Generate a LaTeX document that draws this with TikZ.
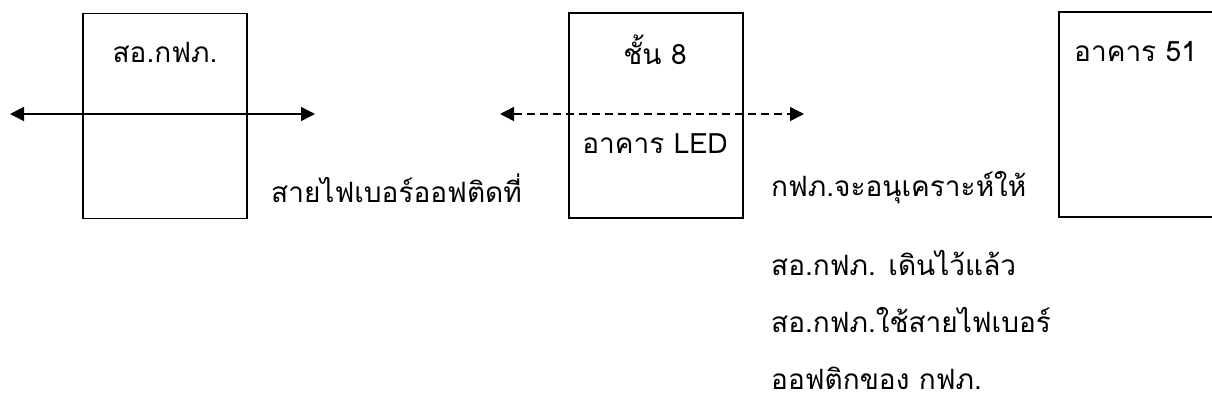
\documentclass[tikz,border=0pt]{standalone}
\usepackage{fontspec}
\newfontfamily\thaifont[Script=Thai]{Loma}
\usetikzlibrary{arrows.meta}
\begin{document}
\begin{tikzpicture}[x=1pt,y=-1pt,
  bx/.style={draw=black,line width=1.8pt},
  lbl/.style={font=\thaifont\fontsize{28}{32}\selectfont,inner sep=0pt},
  link/.style={line width=1.6pt,{Triangle[length=14pt,width=14pt]}-{Triangle[length=14pt,width=14pt]}}]
\useasboundingbox (0,0) rectangle (1212,416);
\clip (0,0) rectangle (1212,416);
\node[bx,minimum width=164pt,minimum height=205pt,anchor=north west] (b1) at (82,12.5) {};
\node[bx,minimum width=174pt,minimum height=205pt,anchor=north west] (b2) at (568,12) {};
\node[bx,minimum width=200pt,minimum height=205pt,anchor=north west] (b3) at (1058,11) {};
\node[lbl] (t1) at (165,52) {สอ.กฟภ.};
\node[lbl] (t2) at (655,50) {ชั้น 8};
\node[lbl] (t3) at (655,144) {อาคาร LED};
\node[lbl,anchor=west] (t4) at (1074,52) {อาคาร 51};
\node[lbl,anchor=west] (t5) at (271,188) {สายไฟเบอร์ออฟติดที่};
\node[lbl,anchor=west] (t6) at (771,188) {กฟภ.จะอนุเคราะห์ให้};
\node[lbl,anchor=west] (t7) at (771,263) {สอ.กฟภ. เดินไว้แล้ว};
\node[lbl,anchor=west] (t8) at (771,320) {สอ.กฟภ.ใช้สายไฟเบอร์};
\node[lbl,anchor=west] (t9) at (771,378) {ออฟติกของ กฟภ.};
\coordinate (a1) at (10,114);
\coordinate (a2) at (315,114);
\coordinate (c1) at (500,114);
\coordinate (c2) at (804,114);
\draw[link] (a1) -- (a2);
\draw[link,dash pattern=on 8pt off 5pt] (c1) -- (c2);
\end{tikzpicture}
\end{document}
